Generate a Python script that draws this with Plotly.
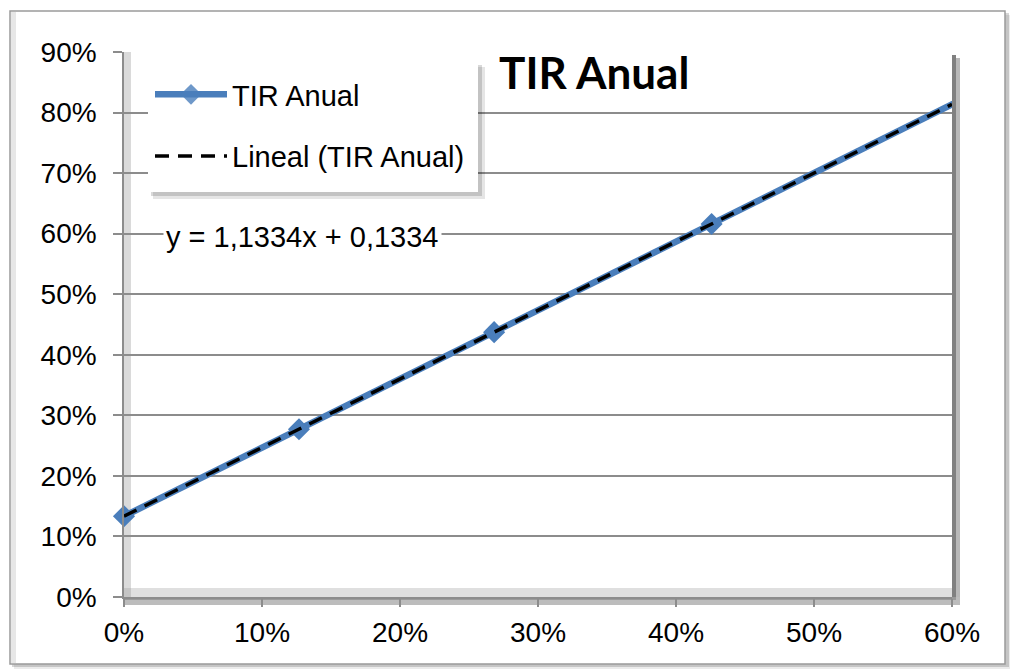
import plotly.graph_objects as go

# ---- data ----
tir_x = [0.0, 0.1268, 0.2682, 0.4258, 0.6010]      # TIR (x)
tir_y = [0.1334, 0.2771, 0.4374, 0.6160, 0.8146]   # TIR Anual
trend_slope = 1.1334
trend_intercept = 0.1334
trend_x = [0.0, 0.6]
trend_y = [trend_slope * v + trend_intercept for v in trend_x]
x_ticks = [0, 0.1, 0.2, 0.3, 0.4, 0.5, 0.6]
y_ticks = [0, 0.1, 0.2, 0.3, 0.4, 0.5, 0.6, 0.7, 0.8, 0.9]

# page body margin offset (browser default 8px)
OFF = 8
W, H = 1018 - OFF, 670 - OFF
# plot area in reference (screen) pixels
PX0, PX1, PY0, PY1 = 124, 952, 52, 597
L, T = PX0 - OFF, PY0 - OFF
R = W - (PX1 - OFF)
B = H - (PY1 - OFF)
PW, PH = PX1 - PX0, PY1 - PY0

def px(x):
    return (x - PX0) / PW

def py(y):
    return (PY1 - y) / PH

BLUE = "#4a7ebb"
FONT = "Liberation Sans, Arial, sans-serif"

# marker visible only for points inside the axis range (Excel hides out-of-range)
marker_opacity = [1 if v <= 0.6 else 0 for v in tir_x]

fig = go.Figure()
fig.add_trace(go.Scatter(
    x=tir_x, y=tir_y, mode="lines+markers", name="TIR Anual",
    line=dict(color=BLUE, width=6.5),
    marker=dict(symbol="diamond", size=17, color=BLUE, opacity=marker_opacity,
                line=dict(width=0)),
    legendgroup="a", cliponaxis=False,
))
fig.add_trace(go.Scatter(
    x=trend_x, y=trend_y, mode="lines", name="Lineal (TIR Anual)",
    line=dict(color="black", width=3.5, dash="14px,9px"),
    legendgroup="b",
))

def rect(x0, x1, y0, y1, fill, layer="below", line=None):
    return dict(type="rect", xref="paper", yref="paper",
                x0=px(x0), x1=px(x1), y0=py(y1), y1=py(y0),
                line=line or dict(width=0), fillcolor=fill, layer=layer)

shapes = []
# outer chart border with shadow
shapes.append(rect(14, 1012, 15, 669, "rgba(0,0,0,0.08)"))
shapes.append(rect(12, 1009, 13, 667, "rgba(0,0,0,0.16)"))
shapes.append(rect(10, 1005, 11, 664, "white", line=dict(color="#9a9a9a", width=1.5)))
shapes.append(rect(11, 16, 12, 663, "rgba(160,160,160,0.25)"))
# plot area 3D shadows
shapes.append(rect(952, 960, 58, 605, "#b8b8b8"))
shapes.append(rect(952, 956, 55, 601, "#808080"))
shapes.append(rect(124, 960, 597, 605, "#bcbcbc"))
shapes.append(rect(124, 956, 597, 600, "#9a9a9a"))
# inner wall shading (left and floor)
shapes.append(rect(124, 131, 52, 597, "rgba(150,150,150,0.35)"))
shapes.append(rect(124, 952, 588, 597, "rgba(150,150,150,0.30)"))
# legend box with shadow
shapes.append(rect(153, 485, 67, 199, "rgba(0,0,0,0.10)", layer="above"))
shapes.append(rect(151, 482, 65, 196, "rgba(0,0,0,0.15)", layer="above"))
shapes.append(rect(148, 478, 62, 192, "white", layer="above"))

fig.update_layout(
    width=W, height=H,
    margin=dict(l=L, r=R, t=T, b=B),
    paper_bgcolor="white", plot_bgcolor="white",
    font=dict(family=FONT, color="black", size=28),
    showlegend=True,
    legend=dict(
        x=px(150), y=py(69), xanchor="left", yanchor="top",
        bgcolor="rgba(0,0,0,0)", borderwidth=0,
        font=dict(family=FONT, size=29, color="black"),
        itemwidth=72, tracegroupgap=21, traceorder="grouped",
    ),
    shapes=shapes,
    annotations=[
        dict(text="<b>TIR Anual</b>", xref="paper", yref="paper",
             x=px(594), y=py(72), xanchor="center", yanchor="middle",
             showarrow=False, font=dict(family="Lato, sans-serif", size=44, color="black")),
        dict(text="y = 1,1334x + 0,1334", xref="paper", yref="paper",
             x=px(302), y=py(237), xanchor="center", yanchor="middle",
             showarrow=False, bgcolor="white", borderpad=2,
             font=dict(family=FONT, size=29, color="black")),
    ],
)
fig.update_xaxes(
    range=[0, 0.6], tickvals=x_ticks, tickformat=".0%",
    showgrid=False, zeroline=False,
    showline=True, linecolor="#8c8c8c", linewidth=1.5,
    ticks="outside", ticklen=8, tickcolor="#8c8c8c", tickwidth=1.5,
    ticklabelstandoff=2,
    tickfont=dict(family=FONT, size=28, color="black"),
)
fig.update_yaxes(
    range=[0, 0.9], tickvals=y_ticks, tickformat=".0%",
    showgrid=True, gridcolor="#8c8c8c", gridwidth=1.5, zeroline=False,
    showline=True, linecolor="#8c8c8c", linewidth=1.5,
    ticks="outside", ticklen=9, tickcolor="#8c8c8c", tickwidth=1.5,
    ticklabelstandoff=11,
    tickfont=dict(family=FONT, size=28, color="black"),
)

fig.write_html("out.html")
